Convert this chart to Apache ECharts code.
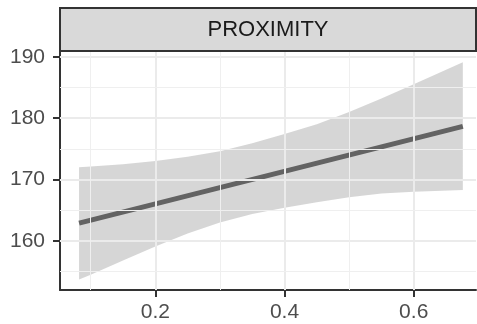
<!DOCTYPE html>
<html>
<head>
<meta charset="utf-8">
<script src="https://cdn.jsdelivr.net/npm/echarts@6/dist/echarts.min.js"></script>
<style>
  html, body { margin: 0; padding: 0; background: #fff; }
  #chart { width: 477px; height: 324px; }
</style>
</head>
<body>
<div id="chart"></div>
<script>
  // fitted line (two ends) and confidence band
  var fitX = [0.082, 0.676];
  var fitY = [162.9, 178.65];
  var bandX = [0.082, 0.1, 0.15, 0.2, 0.25, 0.3, 0.35, 0.4, 0.45, 0.5, 0.55, 0.6, 0.676];
  var bandLow = [153.7, 154.5, 156.8, 159.1, 161.2, 163.0, 164.4, 165.4, 166.3, 167.1, 167.7, 168.0, 168.3];
  var bandHigh = [172.0, 172.1, 172.5, 173.0, 173.7, 174.6, 175.9, 177.4, 179.0, 181.0, 183.2, 185.5, 189.1];
  var xTicks = [0.2, 0.4, 0.6];
  var yTicks = [160, 170, 180, 190];
  var xMinor = [0.1, 0.3, 0.5];
  var yMinor = [155, 165, 175, 185];
  var stripLabel = 'PROXIMITY';

  var font = "'Liberation Sans', Arial, sans-serif";
  var chart = echarts.init(document.getElementById('chart'));

  var fitData = [];
  for (var j = 0; j < fitX.length; j++) fitData.push([fitX[j], fitY[j]]);

  // grid lines as marklines so they sit under the band
  var gridLines = [];
  xTicks.forEach(function (v) { gridLines.push({ xAxis: v, lineStyle: { color: '#EBEBEB', width: 2, type: 'solid' } }); });
  yTicks.forEach(function (v) { gridLines.push({ yAxis: v, lineStyle: { color: '#EBEBEB', width: 2, type: 'solid' } }); });
  xMinor.forEach(function (v) { gridLines.push({ xAxis: v, lineStyle: { color: '#EFEFEF', width: 1, type: 'solid' } }); });
  yMinor.forEach(function (v) { gridLines.push({ yAxis: v, lineStyle: { color: '#EFEFEF', width: 1, type: 'solid' } }); });

  // band polygon: upper edge left->right, lower edge right->left
  function renderBand(params, api) {
    var pts = [];
    for (var i = 0; i < bandX.length; i++) pts.push(api.coord([bandX[i], bandHigh[i]]));
    for (var k = bandX.length - 1; k >= 0; k--) pts.push(api.coord([bandX[k], bandLow[k]]));
    return {
      type: 'polygon',
      shape: { points: pts },
      style: { fill: 'rgba(153,153,153,0.4)' }
    };
  }

  chart.setOption({
    animation: false,
    textStyle: { fontFamily: font },
    grid: { left: 60, right: 1, top: 52, bottom: 34 },
    xAxis: {
      type: 'value',
      min: 0.0525,
      max: 0.6964,
      axisLine: { lineStyle: { color: '#333333', width: 2 } },
      axisTick: { length: 7, lineStyle: { color: '#333333', width: 2 }, customValues: xTicks },
      axisLabel: { customValues: xTicks, color: '#4D4D4D', fontSize: 21, margin: 12, fontFamily: font },
      splitLine: { show: false }
    },
    yAxis: {
      type: 'value',
      min: 152,
      max: 190.77,
      axisLine: { show: true, lineStyle: { color: '#333333', width: 2 } },
      axisTick: { show: true, length: 7, lineStyle: { color: '#333333', width: 2 }, customValues: yTicks },
      axisLabel: { customValues: yTicks, color: '#4D4D4D', fontSize: 21, margin: 15, fontFamily: font },
      splitLine: { show: false }
    },
    series: [
      {
        type: 'line',
        z: 1,
        data: fitData,
        symbol: 'none',
        lineStyle: { opacity: 0 },
        silent: true,
        markLine: {
          silent: true,
          symbol: 'none',
          label: { show: false },
          data: gridLines
        }
      },
      {
        type: 'custom',
        z: 2,
        silent: true,
        data: [[bandX[0], bandLow[0]]],
        renderItem: renderBand
      },
      {
        type: 'line',
        z: 3,
        data: fitData,
        symbol: 'none',
        lineStyle: { color: '#636363', width: 5 },
        silent: true
      }
    ],
    graphic: [
      {
        type: 'rect',
        z: 10,
        shape: { x: 60, y: 8, width: 416, height: 43 },
        style: { fill: '#D9D9D9', stroke: '#333333', lineWidth: 2 }
      },
      {
        type: 'text',
        z: 11,
        x: 268,
        y: 30,
        style: {
          text: stripLabel,
          font: '22px ' + font,
          fill: '#1A1A1A',
          textAlign: 'center',
          textVerticalAlign: 'middle'
        }
      }
    ]
  });
</script>
</body>
</html>
